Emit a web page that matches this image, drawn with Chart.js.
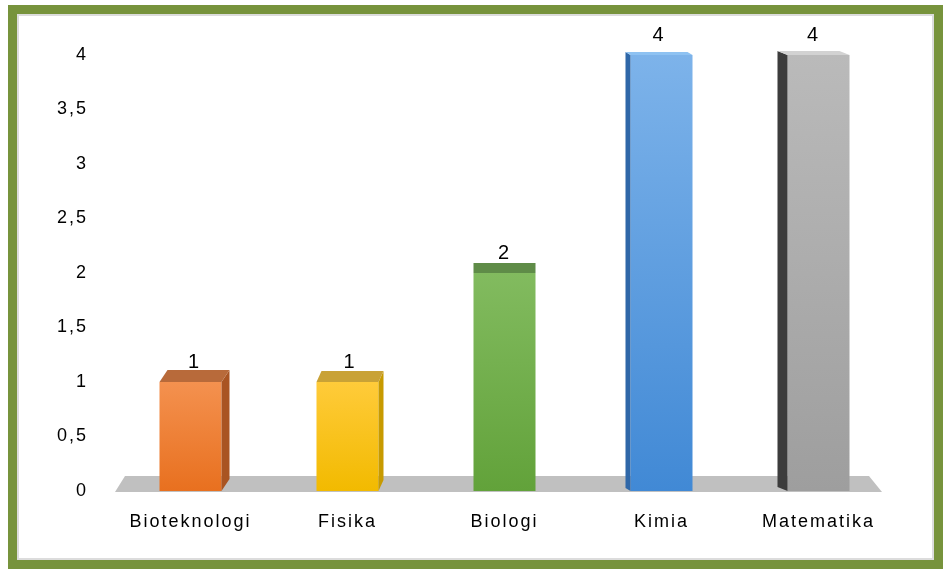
<!DOCTYPE html>
<html>
<head>
<meta charset="utf-8">
<script src="https://cdn.jsdelivr.net/npm/chart.js@4/dist/chart.umd.min.js"></script>
<style>
  html,body{margin:0;padding:0;background:#fff;}
  #frame{position:absolute;left:8px;top:5px;width:917px;height:546px;border:9px solid #77933C;background:#fff;}
  #inner{position:absolute;left:0;top:0;right:0;bottom:0;border:2px solid #dcdcdc;}
  #c{position:absolute;left:0;top:0;}
</style>
</head>
<body>
<div id="frame"><div id="inner"></div></div>
<canvas id="c" width="943" height="569"></canvas>
<script>
// ---- data ----
const categories = ['Bioteknologi', 'Fisika', 'Biologi', 'Kimia', 'Matematika'];
const values = [1, 1, 2, 4, 4];
const yTickLabels = ['0', '0,5', '1', '1,5', '2', '2,5', '3', '3,5', '4'];

// ---- styles ----
const frontTop    = ['#F4914F', '#FFCB3A', '#82BB5F', '#7DB3EA', '#BABABA'];
const frontBottom = ['#E8701F', '#F2BA00', '#62A23A', '#4189D5', '#9E9E9E'];
const sideColor   = ['#A95422', '#C79A00', '#5E8A45', '#2F67A8', '#3C3C3C'];
const topColor    = ['#B86A3A', '#C9A236', '#5F8C48', '#8EC2F2', '#D2D2D2'];
const depthX = [8, 5, 0, -5, -10];
const depthY = [-12, -11, -10, -3, -4];

const floorPlugin = {
  id: 'floor',
  beforeDatasetsDraw(chart) {
    const {ctx, chartArea, scales} = chart;
    const y0 = scales.y.getPixelForValue(0);
    ctx.save();
    ctx.fillStyle = '#C0C0C0';
    ctx.beginPath();
    ctx.moveTo(chartArea.left + 3, y0 + 1);
    ctx.lineTo(chartArea.left + 13, y0 - 15);
    ctx.lineTo(chartArea.right - 28, y0 - 15);
    ctx.lineTo(chartArea.right - 15, y0 + 1);
    ctx.closePath();
    ctx.fill();
    ctx.restore();
  }
};

const facesPlugin = {
  id: 'faces',
  afterDatasetsDraw(chart) {
    const {ctx} = chart;
    const meta = chart.getDatasetMeta(0);
    ctx.save();
    meta.data.forEach((bar, i) => {
      const L = bar.x - bar.width / 2, R = bar.x + bar.width / 2;
      const top = bar.y, base = bar.base;
      const dx = depthX[i], dy = depthY[i];
      if (dx !== 0) {
        const sx = dx > 0 ? R : L;
        ctx.fillStyle = sideColor[i];
        ctx.beginPath();
        ctx.moveTo(sx, top);
        ctx.lineTo(sx + dx, top + dy);
        ctx.lineTo(sx + dx, base + dy);
        ctx.lineTo(sx, base);
        ctx.closePath();
        ctx.fill();
      }
      ctx.fillStyle = topColor[i];
      ctx.beginPath();
      ctx.moveTo(L, top);
      ctx.lineTo(L + dx, top + dy);
      ctx.lineTo(R + dx, top + dy);
      ctx.lineTo(R, top);
      ctx.closePath();
      ctx.fill();
      ctx.fillStyle = '#000';
      ctx.font = '20px "Liberation Sans", Arial, sans-serif';
      ctx.textAlign = 'center';
      ctx.textBaseline = 'middle';
      ctx.fillText(String(values[i]), bar.x + dx / 2, top - 20);
    });
    ctx.restore();
  }
};

const spacingPlugin = {
  id: 'spacing',
  beforeDraw(chart) { chart.ctx.letterSpacing = '2px'; }
};

new Chart(document.getElementById('c'), {
  type: 'bar',
  data: {
    labels: categories,
    datasets: [{
      data: values,
      backgroundColor(context) {
        const chart = context.chart;
        const i = context.dataIndex;
        if (!chart.chartArea) return frontTop[i];
        const ys = chart.scales.y;
        const g = chart.ctx.createLinearGradient(0, ys.getPixelForValue(values[i]), 0, ys.getPixelForValue(0));
        g.addColorStop(0, frontTop[i]);
        g.addColorStop(1, frontBottom[i]);
        return g;
      },
      borderWidth: 0,
      barPercentage: 1,
      categoryPercentage: 0.395
    }]
  },
  options: {
    responsive: false,
    animation: false,
    devicePixelRatio: 1,
    layout: { padding: { left: 40, right: 46, top: 55, bottom: 30 } },
    plugins: { legend: { display: false }, tooltip: { enabled: false } },
    scales: {
      x: {
        grid: { display: false, drawTicks: false },
        border: { display: false },
        ticks: { color: '#000', font: { size: 18, family: '"Liberation Sans", Arial, sans-serif' }, padding: 20, maxRotation: 0 },
        afterFit(s) { s.height = 48; }
      },
      y: {
        min: 0, max: 4,
        grid: { display: false, drawTicks: false },
        border: { display: false },
        ticks: {
          stepSize: 0.5,
          color: '#000',
          font: { size: 18, family: '"Liberation Sans", Arial, sans-serif' },
          padding: 24,
          callback(v) { return yTickLabels[Math.round(v * 2)]; }
        },
        afterFit(s) { s.width = 72; }
      }
    }
  },
  plugins: [spacingPlugin, floorPlugin, facesPlugin]
});
</script>
</body>
</html>
